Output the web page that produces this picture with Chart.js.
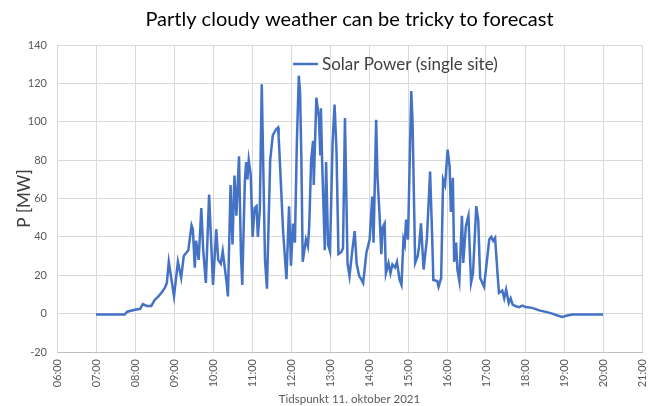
<!DOCTYPE html>
<html>
<head>
<meta charset="utf-8">
<script src="https://cdn.jsdelivr.net/npm/chart.js@4.4.0/dist/chart.umd.min.js"></script>
<style>
  html, body { margin: 0; padding: 0; background: #fff; }
</style>
</head>
<body>
<canvas id="myChart" width="656" height="406"></canvas>
<script>
var chartTitle = 'Partly cloudy weather can be tricky to forecast';
var seriesLabel = 'Solar Power (single site)';
var xTitle = 'Tidspunkt 11. oktober 2021';
var yTitle = 'P [MW]';

// time of day (HH:MM) and power in MW
var times = ["07:00","07:44","07:48","08:00","08:08","08:12","08:18","08:25","08:30","08:36","08:41","08:46","08:49","08:52",
  "09:00","09:06","09:11","09:15","09:22","09:27","09:29","09:32","09:34","09:38","09:42","09:45","09:49","09:54",
  "10:00","10:05","10:08","10:12","10:15","10:21","10:23","10:27","10:30","10:33","10:36","10:40","10:43","10:45","10:49","10:51","10:53","10:55","10:58",
  "11:01","11:04","11:07","11:09","11:12","11:15","11:20","11:23","11:28","11:32","11:37","11:40","11:41","11:42","11:48","11:53","11:57",
  "12:00","12:03","12:06","12:09","12:12","12:14","12:16","12:18","12:23","12:26","12:28","12:31","12:34","12:35","12:39","12:43","12:45","12:46","12:48","12:52","12:54","12:57",
  "13:00","13:04","13:07","13:10","13:13","13:17","13:20","13:23","13:27","13:30","13:34","13:38","13:41","13:45","13:48","13:51","13:56",
  "14:01","14:05","14:07","14:11","14:13","14:16","14:19","14:21","14:24","14:26","14:30","14:33","14:36","14:40","14:43","14:47","14:50","14:53","14:55","14:57",
  "15:00","15:05","15:07","15:11","15:15","15:17","15:20","15:24","15:29","15:34","15:37","15:39","15:45","15:47","15:51","15:54","15:57",
  "16:01","16:04","16:06","16:09","16:11","16:14","16:16","16:19","16:23","16:25","16:29","16:33","16:37","16:40","16:45","16:48","16:51","16:57",
  "17:05","17:08","17:11","17:14","17:18","17:20","17:25","17:28","17:31","17:35","17:38","17:41","17:46","17:51","17:56",
  "18:01","18:11","18:22","18:32","18:42","18:50","18:57","19:05","19:13","20:00"];

var power = [-0.5,-0.5,1,2,2.5,5,4,4,7,9,11,13.5,16,27,
  9,27,18.6,30,33,46,44,24,38,28,55,33,16,62,
  15,44,28,26,32.5,16,9,67,36,72,51,82,31,15,69,79,70,80,72.5,
  40,55,56,40,54,119.5,28,13,80,93,96,97,92,85.5,42,18,56,
  25,47,37,89,124,115,80,27,38.6,35,45.5,80,90,67,112.5,102,83,107,78,33,79,36,
  32.5,89,109,85,31,32,34,102,26,19.5,32,43,26,19.5,18,16,31.7,
  38.6,61,37,101,71.6,53,31,45,47,21,26.4,21,25.6,24,27,17.7,15,38.6,36,49,
  38.6,116,100,26.4,30,35,47,23,38.6,74,42,17.5,17,14,18.6,70,67,
  85.5,76.8,53,70.8,27,37,23,17,51,26.4,45.5,51,16,21,56,49,18.6,14,
  38.6,40,38,39.5,19.5,10.8,12,8,12.5,5.6,8,4.7,3.8,3.4,4.2,
  3.4,3,1.7,0.9,0,-1,-1.7,-1,-0.5,-0.5];

// axis ranges
var xMinHour = 6, xMaxHour = 21;
var yMin = -20, yMax = 140, yStep = 20;

function toMin(s) {
  var p = s.split(':');
  return +p[0] * 60 + +p[1];
}
function hourLabel(v) {
  var h = Math.round(v / 60);
  return (h < 10 ? '0' : '') + h + ':00';
}

var points = times.map(function (t, i) {
  return { x: toMin(t), y: power[i] };
});

var blue = '#4472c4';
var gridColor = '#d9d9d9';
var tickColor = '#595959';

// legend sits inside the plot area, like the Excel original
var insideLegend = {
  id: 'insideLegend',
  afterDraw: function (chart) {
    var ctx = chart.ctx, area = chart.chartArea;
    var ds = chart.data.datasets[0];
    var x = area.left + 236, y = area.top + 19;
    ctx.save();
    ctx.strokeStyle = ds.borderColor;
    ctx.lineWidth = 2.5;
    ctx.beginPath();
    ctx.moveTo(x, y);
    ctx.lineTo(x + 25, y);
    ctx.stroke();
    ctx.fillStyle = '#404040';
    ctx.font = '17px Lato';
    ctx.textBaseline = 'middle';
    ctx.fillText(ds.label, x + 29, y + 1);
    ctx.restore();
  }
};

var ctx = document.getElementById('myChart').getContext('2d');
var chart = new Chart(ctx, {
  type: 'line',
  data: {
    datasets: [{
      label: seriesLabel,
      data: points,
      borderColor: blue,
      backgroundColor: blue,
      borderWidth: 2.5,
      pointRadius: 0,
      tension: 0,
      fill: false
    }]
  },
  options: {
    responsive: false,
    animation: false,
    layout: { padding: { left: 0, right: 14, top: 0, bottom: 0 } },
    plugins: {
      legend: { display: false },
      tooltip: { enabled: false },
      title: {
        display: true,
        fullSize: false,
        text: chartTitle,
        color: '#000',
        font: { family: 'Lato', size: 20, weight: 'normal' },
        padding: { top: 8, bottom: 13 }
      }
    },
    scales: {
      x: {
        type: 'linear',
        min: xMinHour * 60,
        max: xMaxHour * 60,
        ticks: {
          stepSize: 60,
          autoSkip: false,
          minRotation: 90,
          maxRotation: 90,
          padding: 7,
          color: tickColor,
          font: { family: 'Lato', size: 11 },
          callback: hourLabel
        },
        grid: { color: gridColor, drawTicks: false },
        border: { color: '#bfbfbf' },
        title: {
          display: true,
          text: xTitle,
          color: tickColor,
          font: { family: 'Lato', size: 11.5 },
          padding: { top: 3, bottom: 0 }
        },
        afterFit: function (s) {
          s.height = 54;
          s.paddingRight = 0;
        }
      },
      y: {
        min: yMin,
        max: yMax,
        ticks: {
          stepSize: yStep,
          padding: 10,
          color: tickColor,
          font: { family: 'Lato', size: 11 }
        },
        grid: { color: gridColor, drawTicks: false },
        border: { color: gridColor },
        title: {
          display: true,
          text: yTitle,
          color: '#404040',
          font: { family: 'Lato', size: 17 },
          padding: { top: 14, bottom: 0 }
        },
        afterFit: function (s) { s.width = 57; }
      }
    }
  },
  plugins: [insideLegend]
});
</script>
</body>
</html>
